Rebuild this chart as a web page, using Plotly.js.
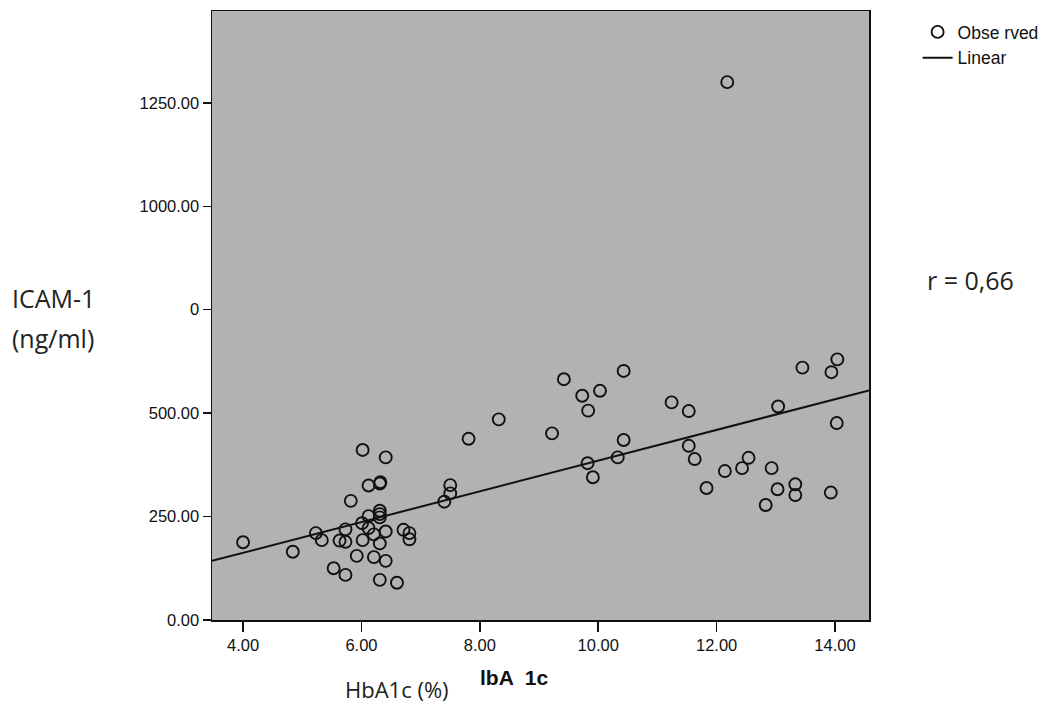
<!DOCTYPE html>
<html>
<head>
<meta charset="utf-8">
<script src="https://cdn.plot.ly/plotly-3.0.1.min.js"></script>
<style>html,body{margin:0;padding:0;background:#fff;}#chart{width:1061px;height:706px;}</style>
</head>
<body>
<div id="chart"></div>
<script>
// Observed HbA1c (%) values
var hba1c = [4.00, 4.84, 5.23, 5.33, 5.53, 5.63, 5.73, 5.73, 5.73, 5.82, 5.92, 6.02, 6.01, 6.02,
  6.12, 6.12, 6.12, 6.21, 6.21, 6.31, 6.32, 6.31, 6.31, 6.31, 6.31, 6.31, 6.41, 6.41, 6.41,
  6.60, 6.71, 6.81, 6.81,
  7.40, 7.50, 7.50, 7.81, 8.32, 9.22, 9.42, 9.73, 9.83, 10.03, 9.82, 9.91, 10.33, 10.43, 10.43,
  11.24, 11.53, 11.53, 11.63, 11.83, 12.14, 12.18, 12.43, 12.54, 12.83, 12.93, 13.03, 13.04,
  13.33, 13.33, 13.45, 13.93, 13.94, 14.04, 14.03];
// Observed ICAM-1 (ng/ml) values
var icam1 = [188, 165, 210, 193, 125, 192, 189, 219, 109, 288, 155, 411, 234, 193,
  325, 251, 222, 207, 152, 330, 333, 264, 248, 256, 185, 97, 393, 214, 143,
  90, 218, 210, 195,
  286, 326, 306, 438, 485, 451, 582, 542, 506, 554, 379, 345, 393, 435, 602,
  526, 505, 421, 389, 319, 360, 1300, 367, 392, 278, 367, 316, 516,
  328, 302, 610, 308, 599, 630, 476];
// Linear fit line at the axis ends
var fitX = [3.475, 14.575];
var fitY = [143, 555];
// Tick labels
var xTicks = [4, 6, 8, 10, 12, 14];
var xTickText = ['4.00', '6.00', '8.00', '10.00', '12.00', '14.00'];
var yTicks = [0, 250, 500, 750, 1000, 1250];
var yTickText = ['0.00', '250.00', '500.00', '0', '1000.00', '1250.00'];

var sansFam = 'Liberation Sans, Arial, sans-serif';
var tickFont = {family: sansFam, size: 16.5, color: '#111'};
var noteFam = 'Open Sans, Noto Sans, sans-serif';

var traces = [
  {
    x: hba1c, y: icam1, type: 'scatter', mode: 'markers', name: 'Obse rved',
    marker: {symbol: 'circle-open', size: 12, color: '#111', line: {width: 1.9, color: '#111'}}
  },
  {
    x: fitX, y: fitY, type: 'scatter', mode: 'lines', name: 'Linear',
    line: {color: '#111', width: 2}
  }
];

var layout = {
  width: 1061, height: 706,
  margin: {l: 212, r: 192, t: 11, b: 86},
  paper_bgcolor: '#ffffff',
  plot_bgcolor: '#b2b2b2',
  showlegend: true,
  legend: {x: 1.074, y: 0.995, xanchor: 'left', yanchor: 'top', bgcolor: 'rgba(0,0,0,0)',
    font: {family: sansFam, size: 17.5, color: '#111'},
    tracegroupgap: 0, itemwidth: 30},
  xaxis: {
    range: [3.475, 14.575], tickvals: xTicks, ticktext: xTickText,
    ticks: 'outside', ticklen: 10, tickwidth: 1.5, tickcolor: '#111',
    showline: true, mirror: true, linecolor: '#111', linewidth: 1.5,
    showgrid: false, zeroline: false, tickfont: tickFont
  },
  yaxis: {
    range: [0, 1472], tickvals: yTicks, ticktext: yTickText,
    ticks: 'outside', ticklen: 8, tickwidth: 1.5, tickcolor: '#111',
    showline: true, mirror: true, linecolor: '#111', linewidth: 1.5,
    showgrid: false, zeroline: false, tickfont: tickFont
  },
  annotations: [
    {text: 'ICAM-1', xref: 'paper', yref: 'paper', x: -0.3075, y: 0.5287, xanchor: 'left', yanchor: 'middle', showarrow: false, font: {family: noteFam, size: 25, color: '#222'}},
    {text: '(ng/ml)', xref: 'paper', yref: 'paper', x: -0.3075, y: 0.4631, xanchor: 'left', yanchor: 'middle', showarrow: false, font: {family: noteFam, size: 25, color: '#222'}},
    {text: 'r = 0,66', xref: 'paper', yref: 'paper', x: 1.0852, y: 0.5583, xanchor: 'left', yanchor: 'middle', showarrow: false, font: {family: noteFam, size: 25, color: '#222'}},
    {text: 'HbA1c (%)', xref: 'paper', yref: 'paper', x: 0.2816, y: -0.1125, xanchor: 'center', yanchor: 'middle', showarrow: false, font: {family: noteFam, size: 22, color: '#222'}},
    {text: '<b>lbA  1c</b>', xref: 'paper', yref: 'paper', x: 0.4597, y: -0.0952, xanchor: 'center', yanchor: 'middle', showarrow: false,
      font: {family: sansFam, size: 21, color: '#111'}}
  ]
};

Plotly.newPlot('chart', traces, layout, {displayModeBar: false, staticPlot: true});
</script>
</body>
</html>
